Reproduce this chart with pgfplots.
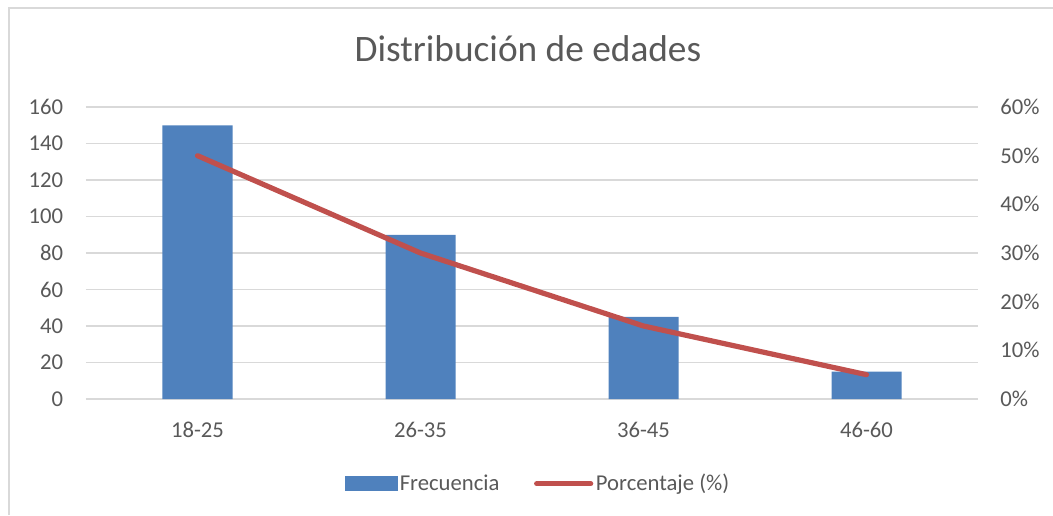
\documentclass[border=0pt]{standalone}
\usepackage{fontspec}
\setmainfont{Carlito}
\usepackage{pgfplots}
\pgfplotsset{compat=1.18}
\definecolor{barblue}{HTML}{4F81BD}
\definecolor{linered}{HTML}{C0504D}
\definecolor{gridgray}{HTML}{D9D9D9}
\definecolor{textgray}{HTML}{595959}
\begin{document}
\begin{tikzpicture}[x=0.75pt,y=0.75pt]
\path[use as bounding box] (0,0) rectangle (1053,515);
\draw[gridgray,line width=1.3pt] (9,0) -- (9,507) -- (1053,507);
\node[text=textgray, font=\fontsize{28}{34}\selectfont] at (528,466) {Distribución de edades};
\pgfplotsset{
  every axis/.append style={
    scale only axis, width=669pt, height=219pt, at={(64.5pt,87pt)}, anchor=south west,
    xmin=-0.5, xmax=3.5, ymin=0,
    tick label style={font=\fontsize{17}{20}\selectfont, text=textgray, inner sep=0pt},
    /pgf/number format/assume math mode=true,
    axis line style={draw=none},
    tick style={draw=none},
    major tick length=0pt,
  }
}
\begin{axis}[
  ymax=160, ytick={0,20,...,160},
  ymajorgrids, grid style={gridgray, line width=1.3pt},
  xtick={0,1,2,3}, xticklabels={18-25,26-35,36-45,46-60},
  xticklabel style={anchor=north, yshift=-17pt},
  yticklabel style={anchor=east, xshift=-17pt},
]
\addplot[ybar, bar width=52.5pt, fill=barblue, draw=none] coordinates {(0,150) (1,90) (2,45) (3,15)};
\end{axis}
\begin{axis}[
  ymax=60, ytick={0,10,...,60},
  yticklabel={\pgfmathprintnumber{\tick}\%},
  yticklabel pos=right,
  yticklabel style={anchor=west, xshift=16.5pt},
  xtick=\empty,
  legend style={at={(0.507,-0.29)}, anchor=center, draw=none, fill=none,
    legend columns=2, font=\fontsize{17}{20}\selectfont, text=textgray,
    /tikz/every even column/.append style={column sep=24pt}},
  legend cell align=left,
]
\addlegendimage{legend image code/.code={\fill[barblue] (0pt,-5.25pt) rectangle (39pt,5.25pt);}}
\addlegendentry{Frecuencia}
\addplot[linered, line width=3.9pt, line cap=round, line join=round,
  legend image code/.code={\draw[linered,line width=3.9pt,line cap=round] (1.5pt,0pt) -- (42pt,0pt);}]
  coordinates {(0,50) (1,30) (2,15) (3,5)};
\addlegendentry{Porcentaje (\%)}
\end{axis}
\end{tikzpicture}
\end{document}
